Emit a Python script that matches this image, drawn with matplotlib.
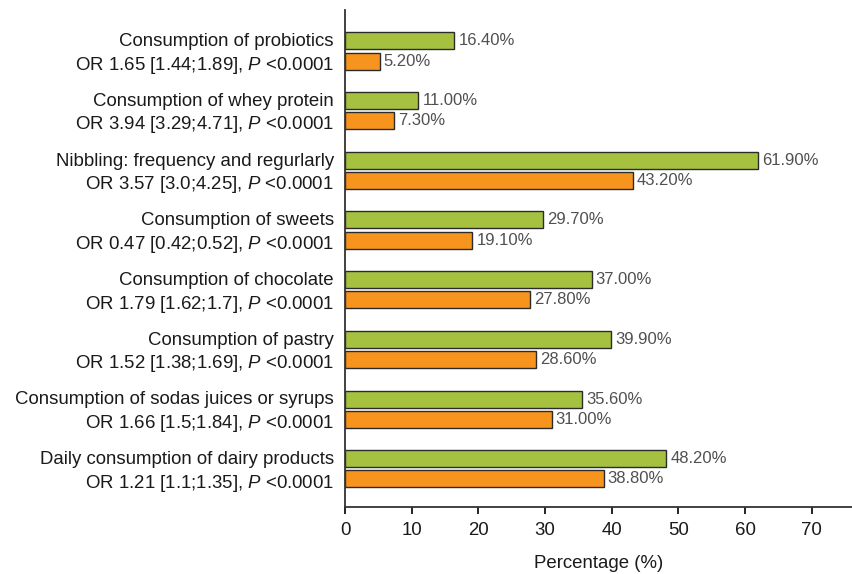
import matplotlib.pyplot as plt
import numpy as np

plt.rcParams['font.family'] = ['Liberation Sans', 'DejaVu Sans']
plt.rcParams['mathtext.fontset'] = 'custom'
plt.rcParams['mathtext.it'] = 'Liberation Sans:italic'
plt.rcParams['mathtext.rm'] = 'Liberation Sans'

items = ["Consumption of probiotics",
         "Consumption of whey protein",
         "Nibbling: frequency and regurlarly",
         "Consumption of sweets",
         "Consumption of chocolate",
         "Consumption of pastry",
         "Consumption of sodas juices or syrups",
         "Daily consumption of dairy products"]
odds = ["OR 1.65 [1.44;1.89]",
        "OR 3.94 [3.29;4.71]",
        "OR 3.57 [3.0;4.25]",
        "OR 0.47 [0.42;0.52]",
        "OR 1.79 [1.62;1.7]",
        "OR 1.52 [1.38;1.69]",
        "OR 1.66 [1.5;1.84]",
        "OR 1.21 [1.1;1.35]"]
green_vals = [16.4, 11.0, 61.9, 29.7, 37.0, 39.9, 35.6, 48.2]
orange_vals = [5.2, 7.3, 43.2, 19.1, 27.8, 28.6, 31.0, 38.8]

fig = plt.figure(figsize=(8.53, 5.74), dpi=100)
ax = fig.add_axes([0.4045, 0.1167, 0.5955, 0.866])

n = len(items)
pos = np.arange(n)[::-1]
h = 0.285
off = 0.17

ax.barh(pos + off, green_vals, height=h, color='#a5c13f', edgecolor='#2b2b2b', lw=1)
ax.barh(pos - off, orange_vals, height=h, color='#f7941e', edgecolor='#2b2b2b', lw=1)

# percentage labels at the end of each bar
for p, g, o in zip(pos, green_vals, orange_vals):
    ax.text(g + 0.6, p + off, f"{g:.2f}%", va='center', ha='left', fontsize=12, color='#505050')
    ax.text(o + 0.6, p - off, f"{o:.2f}%", va='center', ha='left', fontsize=12, color='#505050')

labels = [f"{a}\n{b}, $P$ <0.0001" for a, b in zip(items, odds)]
ax.set_yticks(pos + 0.03)
ax.set_yticklabels(labels, fontsize=13.4, linespacing=1.3, color='#1a1a1a')
ax.tick_params(axis='y', length=0, pad=8)

ax.set_xlim(0, 76.2)
ax.set_ylim(-0.64, n - 1 + 0.69)
ax.set_xticks(range(0, 80, 10))
ax.tick_params(axis='x', labelsize=13.4, length=5, width=1.2, direction='out', pad=6,
               labelcolor='#1a1a1a')
ax.set_xlabel("Percentage (%)", fontsize=13.4, labelpad=11, color='#1a1a1a')

for s in ['top', 'right']:
    ax.spines[s].set_visible(False)
ax.spines['left'].set_linewidth(1.3)
ax.spines['bottom'].set_linewidth(1.3)
ax.spines['left'].set_color('#333333')
ax.spines['bottom'].set_color('#333333')

fig.savefig("out.png", dpi=100)
